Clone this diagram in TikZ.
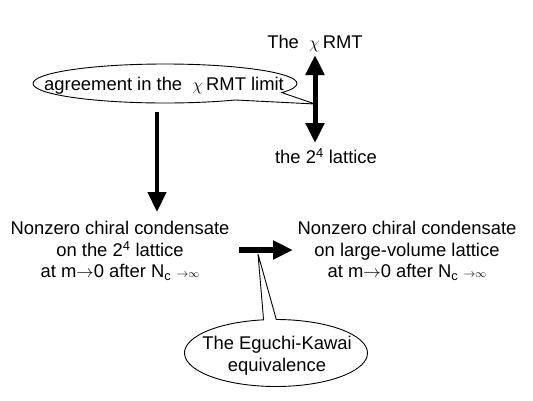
\documentclass[tikz,border=0pt]{standalone}
\usepackage{fontspec}
\setmainfont{Liberation Sans}
\usetikzlibrary{arrows.meta,shapes.callouts}
\newcommand{\smallarr}{{\fontsize{13}{13}\selectfont$\rightarrow$}{\fontsize{11}{11}\selectfont$\infty$}}
\begin{document}
\begin{tikzpicture}[x=1pt,y=-1pt,
  txt/.style={font=\fontsize{18.4}{21.5}\selectfont, inner sep=0pt, align=center},
  bub/.style={ellipse callout, draw=black, line width=0.9pt, fill=white, inner sep=0pt},
  fatarrow/.style={line width=5pt, -{Triangle[length=20pt,width=18pt]}},
  fatdouble/.style={line width=5pt, {Triangle[length=20pt,width=18pt]}-{Triangle[length=20pt,width=18pt]}},
]
\useasboundingbox (0,0) rectangle (533,400);

% coordinates for arrow ends
\coordinate (ua) at (315,55);
\coordinate (ub) at (315,143);
\coordinate (utip) at (315,104);
\coordinate (da) at (157,112);
\coordinate (db) at (157,212);
\coordinate (ha) at (239,250);
\coordinate (hb) at (293,250);
\coordinate (htip) at (258,254);

% top callout
\node[bub, minimum width=264pt, minimum height=39pt, callout absolute pointer={(utip)}, callout pointer arc=30] (agr) at (165,83.5) {};
\node[txt, anchor=base] (agrt) at (164,90.5) {agreement in the \ $\chi$\,RMT limit};

% double arrow and its labels
\node[txt, anchor=base] (rmt) at (315,48.5) {The \ $\chi$\,RMT};
\node[txt, anchor=base] (lat) at (326,163.5) {the 2\textsuperscript{4} lattice};
\draw[fatdouble] (ua) -- (ub);

% down arrow
\draw[fatarrow, line width=4.5pt] (da) -- (db);

% condensate texts
\node[txt] (left) at (120,251) {Nonzero chiral condensate\\on the 2\textsuperscript{4} lattice\\at m$\rightarrow$0 after N\textsubscript{c} \smallarr};
\node[txt] (right) at (407,251) {Nonzero chiral condensate\\on large-volume lattice\\at m$\rightarrow$0 after N\textsubscript{c} \smallarr};

% horizontal arrow
\draw[fatarrow, line width=6.5pt] (ha) -- (hb);

% EK callout
\node[bub, minimum width=183pt, minimum height=67pt, callout absolute pointer={(htip)}, callout pointer arc=8] (ek) at (276,353) {};
\node[txt, font=\fontsize{18.4}{22}\selectfont] (ekt) at (277,356) {The Eguchi-Kawai\\equivalence};
\end{tikzpicture}
\end{document}
